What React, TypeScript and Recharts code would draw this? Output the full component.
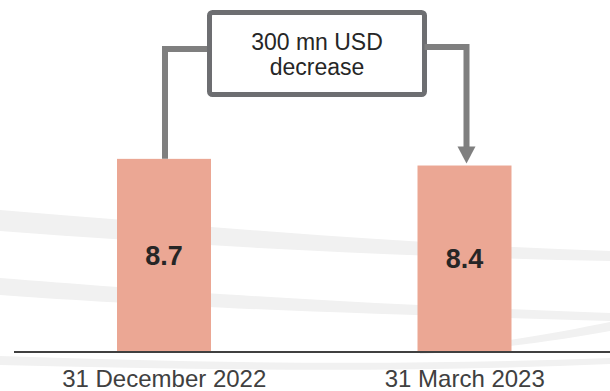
import { BarChart, Bar, XAxis, YAxis, LabelList } from 'recharts';

const periods = ['31 December 2022', '31 March 2023'];
const amounts = [8.7, 8.4];
const changeLabel = ['300 mn USD', 'decrease'];

const data = periods.map((name, i) => ({ name, value: amounts[i] }));

const FONT = '"Liberation Sans", Arial, sans-serif';
const BAR = '#eba794';
const LINK = '#7f7f7f';

// annotation box, sits between the two bars
const BOX = { x: 209.5, y: 12.5, w: 215, h: 82 };

function BarWithLink(props: any) {
    const { x, y, width, height, index, fill } = props;
    const cx = x + width / 2;
    const rect = <rect x={x} y={y} width={width} height={height} fill={fill} />;

    if (index === 0) {
        const ly = 49;
        return (
            <g>
                {rect}
                <path d={`M${cx + 1},${y} L${cx + 1},${ly} L${BOX.x},${ly}`} fill="none" stroke={LINK} strokeWidth={6} />
                <rect x={BOX.x} y={BOX.y} width={BOX.w} height={BOX.h} rx={3} fill="#fff" stroke="#6d6e71" strokeWidth={5} />
                <text x={BOX.x + BOX.w / 2} y={50} textAnchor="middle" fontFamily={FONT} fontSize={23} fill="#262626">
                    {changeLabel[0]}
                </text>
                <text x={BOX.x + BOX.w / 2} y={75} textAnchor="middle" fontFamily={FONT} fontSize={23} fill="#262626">
                    {changeLabel[1]}
                </text>
            </g>
        );
    }

    const ly = 47;
    const tip = y - 2;
    const ax = cx + 2;
    return (
        <g>
            {rect}
            <path d={`M${BOX.x + BOX.w},${ly} L${ax},${ly} L${ax},${tip - 14}`} fill="none" stroke={LINK} strokeWidth={6} />
            <path d={`M${ax - 9},${tip - 17} L${ax + 9},${tip - 17} L${ax},${tip} Z`} fill={LINK} />
        </g>
    );
}

export default function App() {
    return (
        <div style={{ position: 'absolute', left: 0, top: 0, width: 610, height: 391, overflow: 'hidden', background: '#fff' }}>
            <svg width={610} height={391} style={{ position: 'absolute', left: 0, top: 0 }}>
                <g fill="#f1f1f1">
                    <path d="M0,210 C200,226 400,244 610,251 L610,261 C400,257 200,246 0,231 Z" />
                    <path d="M0,278 C150,290 350,304 610,313 L610,321 C350,314 150,306 0,295 Z" />
                    <path d="M420,350 C500,344 560,332 610,322 L610,331 C560,340 500,349 420,354 Z" />
                    <path d="M0,356 C200,363 400,366 610,358 L610,364 C400,373 200,370 0,365 Z" />
                </g>
            </svg>
            <div style={{ position: 'absolute', left: 0, top: 0 }}>
                <BarChart width={615} height={391} data={data} margin={{ top: 130, right: 0, bottom: 0, left: 14 }}>
                    <YAxis hide domain={[0, 10]} />
                    <XAxis
                        dataKey="name"
                        height={39}
                        tickLine={false}
                        tickMargin={12}
                        axisLine={{ stroke: '#404040', strokeWidth: 2 }}
                        tick={{ fontSize: 24, fontFamily: FONT, fill: '#404040' }}
                        interval={0}
                    />
                    <Bar dataKey="value" fill={BAR} barSize={94} shape={<BarWithLink />} isAnimationActive={false}>
                        <LabelList dataKey="value" position="center" fontSize={27} fontWeight={700} fontFamily={FONT} fill="#262626" />
                    </Bar>
                </BarChart>
            </div>
        </div>
    );
}
